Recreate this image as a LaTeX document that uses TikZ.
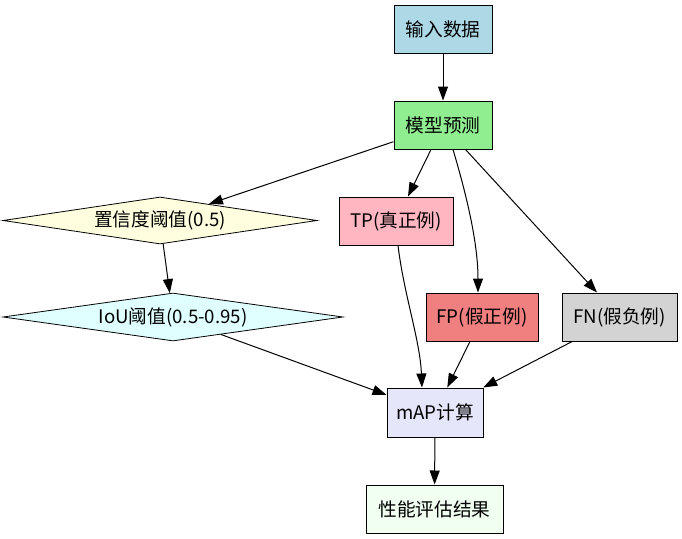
\documentclass[tikz,border=0pt]{standalone}
\usepackage{fontspec}
\newfontfamily\cjk{Noto Sans CJK SC}
\usetikzlibrary{shapes.geometric,arrows.meta,calc}
\definecolor{clightblue}{HTML}{ADD8E6}
\definecolor{clightgreen}{HTML}{90EE90}
\definecolor{clightyellow}{HTML}{FFFFE0}
\definecolor{clightcyan}{HTML}{E0FFFF}
\definecolor{clightpink}{HTML}{FFB6C1}
\definecolor{clightcoral}{HTML}{F08080}
\definecolor{clightgray}{HTML}{D3D3D3}
\definecolor{clavender}{HTML}{E6E6FA}
\definecolor{choneydew}{HTML}{F0FFF0}
\tikzset{
  box/.style={draw=black, line width=0.75pt, inner sep=0pt, minimum height=36pt, font=\cjk\fontsize{14}{16}\selectfont},
  dia/.style={draw=black, line width=0.6pt, diamond, inner sep=0pt, font=\cjk\fontsize{14}{16}\selectfont},
  conn/.style={line width=0.75pt, -{Triangle[length=10.5pt,width=7.5pt]}}
}
\begin{document}
\begin{tikzpicture}[x=0.75pt,y=-0.75pt]
\useasboundingbox (0,0) rectangle (682,539);
\node[box, fill=clightblue, minimum width=73.5pt] (in) at (443,29) {输入数据};
\node[box, fill=clightgreen, minimum width=73.5pt] (mx) at (443,125) {模型预测};
\node[dia, fill=clightyellow, aspect=6.68, minimum width=235.5pt, minimum height=35.25pt] (conf) at (160,220.5) {置信度阈值(0.5)};
\node[dia, fill=clightcyan, aspect=7.08, minimum width=255pt, minimum height=36pt] (iou) at (173,317) {IoU阈值(0.5-0.95)};
\node[box, fill=clightpink, minimum width=85.5pt] (tp) at (396,221) {TP(真正例)};
\node[box, fill=clightcoral, minimum width=84pt] (fp) at (482,317) {FP(假正例)};
\node[box, fill=clightgray, minimum width=86.25pt] (fn) at (619.5,317) {FN(假负例)};
\node[box, fill=clavender, minimum width=72pt, minimum height=36.75pt] (map) at (435,412.5) {mAP计算};
\node[box, fill=choneydew, minimum width=102.75pt] (res) at (434.5,509) {性能评估结果};

\draw[conn] (in) -- (mx);
\draw[conn] (mx) -- (conf);
\draw[conn] (mx) -- (tp);
\draw[conn] ($(mx.south)+(10,0)$) .. controls (468,200) and (478,245) .. ($(fp.north)+(-4,0)$);
\draw[conn] (mx) -- (fn);
\draw[conn] (conf) -- (iou);
\draw[conn] (iou) -- (map);
\draw[conn] ($(tp.south)+(2,0)$) .. controls (404,295) and (420,340) .. ($(map.north)+(-13,0)$);
\draw[conn] (fp) -- (map);
\draw[conn] (fn) -- (map);
\draw[conn] (map) -- (res);
\end{tikzpicture}
\end{document}
